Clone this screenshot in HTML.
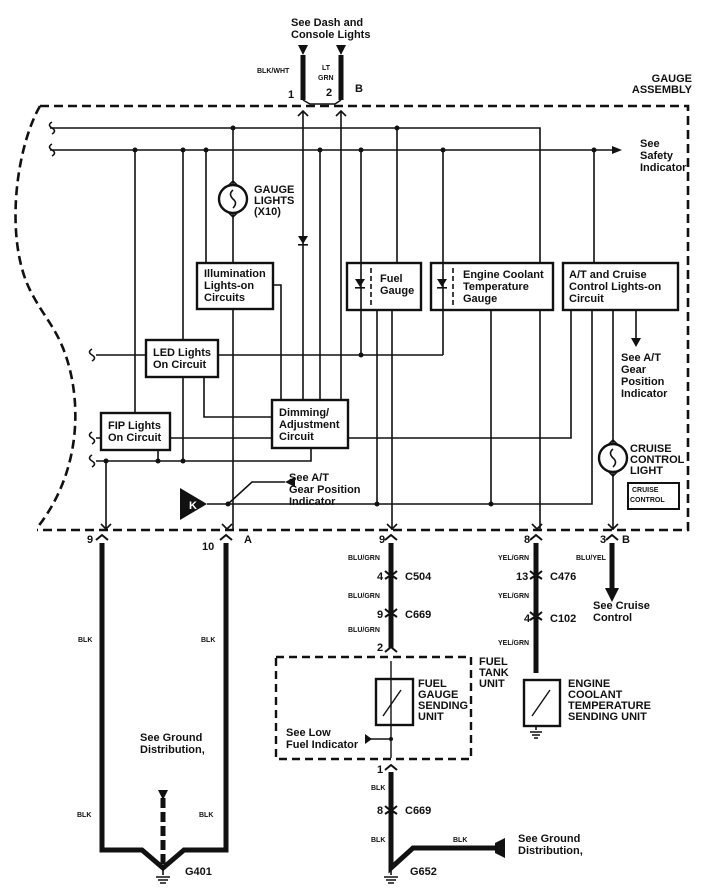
<!DOCTYPE html>
<html><head><meta charset="utf-8"><style>
html,body{margin:0;padding:0;background:#fff;}
svg{display:block;}
text{font-family:"Liberation Sans",Arial,sans-serif;font-weight:bold;fill:#111;}
.t{font-size:11px;}
.s{font-size:7px;}
</style></head><body>
<svg width="722" height="896" viewBox="0 0 722 896" xmlns="http://www.w3.org/2000/svg">
<g fill="none" stroke="#111" stroke-width="1.6">
<!-- gauge assembly dashed outline -->
<path d="M40,106 L688,106 L688,530 L37,530 M40,106 C15,150 5,240 30,290 C45,320 60,330 70,370 C82,420 75,480 37,528" stroke-width="2.6" stroke-dasharray="9,5"/>
<!-- top buses -->
<path d="M50,128 H540 V263"/>
<path d="M50,150 H612"/>
<!-- S marks -->
<path d="M52,122 q-5,3 0,6 q5,3 0,6 M52,144 q-5,3 0,6 q5,3 0,6 M92,349 q-5,3 0,6 q5,3 0,6 M92,432 q-5,3 0,6 q5,3 0,6 M92,455 q-5,3 0,6 q5,3 0,6"/>
<!-- top connector wires -->
<path d="M303,55 V100 M341,55 V100" stroke-width="5"/>
<path d="M303,100 L310,104 H335 L341,100" stroke-width="1.4"/>
<path d="M303,112 V400 M341,112 V400"/>
<path d="M298,116 l5,-5 l5,5 M336,116 l5,-5 l5,5"/>
<!-- gauge lights -->
<path d="M233,128 V184 M233,214 V263"/>
<circle cx="233" cy="199" r="14" stroke-width="2.4"/>
<path d="M228,186 l5,-5 l5,5 M228,212 l5,5 l5,-5"/>
<path d="M233,190 q-5,4 0,9 q5,4 0,9"/>
<!-- diode on pin1 line -->
<!-- bus2 drops -->
<path d="M135,150 V413 M183,150 V340 M206,150 V263 M320,150 V400 M361,150 V355 M443,150 V355 M594,150 V263"/>
<path d="M397,128 V263"/>
<!-- boxes -->
<rect x="197" y="263" width="76" height="46" stroke-width="2.4"/>
<rect x="347" y="263" width="74" height="47" stroke-width="2.4"/>
<rect x="431" y="263" width="122" height="47" stroke-width="2.4"/>
<rect x="563" y="263" width="115" height="47" stroke-width="2.4"/>
<rect x="146" y="340" width="72" height="37" stroke-width="2.4"/>
<rect x="101" y="413" width="69" height="37" stroke-width="2.4"/>
<rect x="272" y="400" width="76" height="48" stroke-width="2.4"/>
<rect x="628" y="483" width="51" height="26" stroke-width="2"/>
<!-- dividers -->
<path d="M371,268 V306 M453,268 V306" stroke-dasharray="5,3"/>
<!-- illumination stub -->
<path d="M273,285 H281 V400"/>
<path d="M233,309 V530"/>
<!-- fuel gauge bottom lines -->
<path d="M377,310 V504 M392,310 V530"/>
<!-- coolant bottom -->
<path d="M491,310 V504 M540,310 V530"/>
<!-- LED line -->
<path d="M96,355 H146 M218,355 H443"/>
<path d="M183,377 V461 M204,377 V417 H272"/>
<!-- FIP line -->
<path d="M96,438 H101 M170,438 H272 M348,438 H571 V310"/>
<path d="M158,450 V461"/>
<!-- bottom line -->
<path d="M96,461 H311 V448"/>
<path d="M106,461 V530"/>
<!-- K bus -->
<path d="M207,504 H592 V310"/>
<path d="M228,504 L252,482 H285"/>
<!-- A/T arrow -->
<path d="M636,310 V340"/>
<!-- cruise light -->
<path d="M613,310 V443 M613,473 V530"/>
<circle cx="613" cy="458" r="14" stroke-width="2.4"/>
<path d="M608,445 l5,-5 l5,5 M608,471 l5,5 l5,-5"/>
<path d="M613,449 q-5,4 0,9 q5,4 0,9"/>
<!-- bottom pin chevrons inside -->
<path d="M101,524 l5,5 l5,-5 M222,524 l5,5 l5,-5 M387,524 l5,5 l5,-5 M532,524 l5,5 l5,-5 M608,524 l5,5 l5,-5"/>
<!-- lower wires -->
<path d="M102,543 V850 H142 L163,868 L184,850 H226 V543" stroke-width="5"/>
<path d="M163,798 V868" stroke-width="5" stroke-dasharray="10,4"/>
<path d="M391,543 V648" stroke-width="5"/>
<path d="M391,661 V758" stroke-width="1.4"/>
<path d="M391,772 V868 L413,848 H495" stroke-width="5"/>
<path d="M536,543 V673" stroke-width="5"/>
<path d="M612,543 V590" stroke-width="5"/>
<!-- pin chevrons below -->
<path d="M96,540 l6,-5 l6,5 M220,540 l6,-5 l6,5 M385,540 l6,-5 l6,5 M530,540 l6,-5 l6,5 M606,540 l6,-5 l6,5" stroke-width="2"/>
<path d="M385,571 l6,5 l6,-5 M385,579 l6,-4 l6,4 M385,609 l6,5 l6,-5 M385,617 l6,-4 l6,4 M530,571 l6,5 l6,-5 M530,579 l6,-4 l6,4 M530,612 l6,5 l6,-5 M530,620 l6,-4 l6,4 M385,806 l6,5 l6,-5 M385,814 l6,-4 l6,4 M385,770 l6,-5 l6,5 M385,652 l6,-5 l6,5" stroke-width="2"/>
<!-- fuel tank unit -->
<rect x="276" y="657" width="195" height="102" stroke-width="2.4" stroke-dasharray="8,5"/>
<rect x="376" y="679" width="37" height="46" stroke-width="2.4"/>
<rect x="524" y="680" width="36" height="46" stroke-width="2.4"/>
<path d="M383,716 l18,-26 M532,716 l18,-26" stroke-width="1.4"/>
<path d="M366,739 H391"/>
<!-- grounds -->
<path d="M536,726 V730 M530,732 h12 M532,735 h8 M534,738 h4"/>
<path d="M163,868 V875 M156,877 h14 M158,880 h10 M160,883 h6"/>
<path d="M391,868 V875 M384,877 h14 M386,880 h10 M388,883 h6"/>
</g>
<g fill="#111">
<polygon points="298,45 308,45 303,55"/>
<polygon points="336,45 346,45 341,55"/>
<polygon points="612,146 622,150 612,154"/>
<polygon points="298,236 308,236 303,244"/>
<rect x="298" y="244" width="10" height="1.6"/>
<polygon points="355,279 365,279 360,287"/><rect x="355" y="287" width="10" height="1.6"/>
<polygon points="437,279 447,279 442,287"/><rect x="437" y="287" width="10" height="1.6"/>
<polygon points="631,338 641,338 636,347"/>
<polygon points="180,488 207,504 180,520"/>
<polygon points="295,477 285,482 295,487"/>
<polygon points="605,588 619,588 612,602"/>
<polygon points="158,790 168,790 163,800"/>
<polygon points="365,734 365,744 372,739"/>
<polygon points="495,843 505,838 505,858 495,853"/>
<circle cx="233" cy="128" r="2.5"/><circle cx="397" cy="128" r="2.5"/>
<circle cx="135" cy="150" r="2.5"/><circle cx="183" cy="150" r="2.5"/><circle cx="206" cy="150" r="2.5"/><circle cx="320" cy="150" r="2.5"/><circle cx="361" cy="150" r="2.5"/><circle cx="443" cy="150" r="2.5"/><circle cx="594" cy="150" r="2.5"/>
<circle cx="361" cy="355" r="2.5"/>
<circle cx="106" cy="461" r="2.5"/><circle cx="158" cy="461" r="2.5"/><circle cx="183" cy="461" r="2.5"/>
<circle cx="228" cy="504" r="2.5"/><circle cx="377" cy="504" r="2.5"/><circle cx="491" cy="504" r="2.5"/>
<circle cx="391" cy="739" r="2"/>
</g>
<text x="189" y="509" fill="#fff" style="fill:#fff" class="t">K</text>
<!-- labels -->
<g class="t">
<text x="291" y="26">See Dash and</text>
<text x="291" y="38">Console Lights</text>
<text x="288" y="98">1</text><text x="326" y="96">2</text><text x="355" y="92">B</text>
<text x="692" y="82" text-anchor="end">GAUGE</text>
<text x="692" y="93" text-anchor="end">ASSEMBLY</text>
<text x="640" y="147">See</text><text x="640" y="159">Safety</text><text x="640" y="171">Indicator</text>
<text x="254" y="193">GAUGE</text><text x="254" y="204">LIGHTS</text><text x="254" y="215">(X10)</text>
<text x="204" y="277">Illumination</text><text x="204" y="289">Lights-on</text><text x="204" y="301">Circuits</text>
<text x="380" y="282">Fuel</text><text x="380" y="294">Gauge</text>
<text x="463" y="278">Engine Coolant</text><text x="463" y="290">Temperature</text><text x="463" y="302">Gauge</text>
<text x="569" y="278">A/T and Cruise</text><text x="569" y="290">Control Lights-on</text><text x="569" y="302">Circuit</text>
<text x="153" y="356">LED Lights</text><text x="153" y="368">On Circuit</text>
<text x="108" y="429">FIP Lights</text><text x="108" y="441">On Circuit</text>
<text x="279" y="416">Dimming/</text><text x="279" y="428">Adjustment</text><text x="279" y="440">Circuit</text>
<text x="621" y="361">See A/T</text><text x="621" y="373">Gear</text><text x="621" y="385">Position</text><text x="621" y="397">Indicator</text>
<text x="630" y="452">CRUISE</text><text x="630" y="463">CONTROL</text><text x="630" y="474">LIGHT</text>
<text x="289" y="481">See A/T</text><text x="289" y="493">Gear Position</text><text x="289" y="505">Indicator</text>
<text x="87" y="543">9</text><text x="202" y="550">10</text><text x="244" y="543">A</text>
<text x="379" y="543">9</text><text x="524" y="543">8</text><text x="600" y="543">3</text><text x="622" y="543">B</text>
<text x="377" y="580">4</text><text x="405" y="580">C504</text>
<text x="377" y="618">9</text><text x="405" y="618">C669</text>
<text x="377" y="651">2</text>
<text x="516" y="580">13</text><text x="550" y="580">C476</text>
<text x="524" y="622">4</text><text x="550" y="622">C102</text>
<text x="593" y="609">See Cruise</text><text x="593" y="621">Control</text>
<text x="479" y="665">FUEL</text><text x="479" y="676">TANK</text><text x="479" y="687">UNIT</text>
<text x="418" y="687">FUEL</text><text x="418" y="698">GAUGE</text><text x="418" y="709">SENDING</text><text x="418" y="720">UNIT</text>
<text x="568" y="687">ENGINE</text><text x="568" y="698">COOLANT</text><text x="568" y="709">TEMPERATURE</text><text x="568" y="720">SENDING UNIT</text>
<text x="286" y="736">See Low</text><text x="286" y="748">Fuel Indicator</text>
<text x="140" y="741">See Ground</text><text x="140" y="753">Distribution,</text>
<text x="377" y="773">1</text><text x="377" y="814">8</text><text x="405" y="814">C669</text>
<text x="518" y="842">See Ground</text><text x="518" y="854">Distribution,</text>
<text x="185" y="875">G401</text><text x="410" y="875">G652</text>
</g>
<g class="s">
<text x="257" y="73">BLK/WHT</text><text x="322" y="70">LT</text><text x="318" y="80">GRN</text>
<text x="632" y="492">CRUISE</text><text x="630" y="502">CONTROL</text>
<text x="348" y="560">BLU/GRN</text><text x="348" y="598">BLU/GRN</text><text x="348" y="632">BLU/GRN</text>
<text x="498" y="560">YEL/GRN</text><text x="498" y="598">YEL/GRN</text><text x="498" y="645">YEL/GRN</text>
<text x="576" y="560">BLU/YEL</text>
<text x="78" y="642">BLK</text><text x="201" y="642">BLK</text><text x="77" y="817">BLK</text><text x="199" y="817">BLK</text>
<text x="371" y="790">BLK</text><text x="371" y="842">BLK</text><text x="453" y="842">BLK</text>
</g>
</svg>
</body></html>
